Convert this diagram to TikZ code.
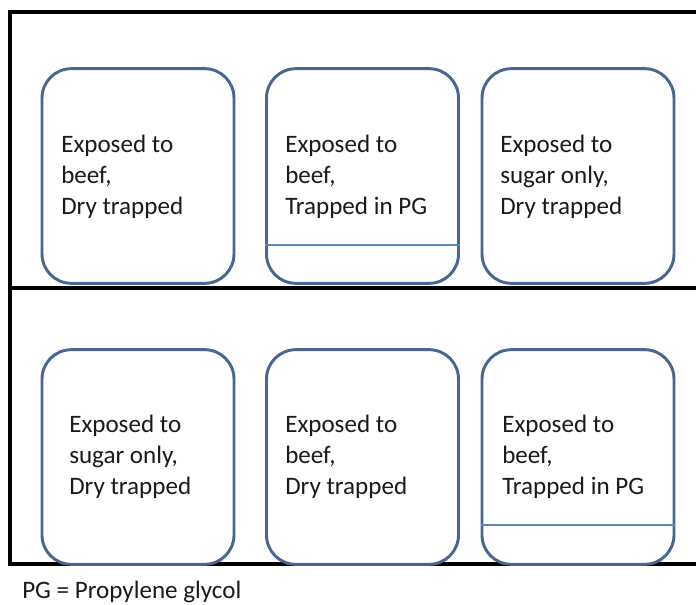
\documentclass[tikz,border=0pt]{standalone}
\usepackage{fontspec}
\setmainfont{Carlito}
\definecolor{boxblue}{HTML}{4A6591}
\definecolor{thinblue}{HTML}{5B86BF}
\definecolor{txt}{HTML}{1A1A1A}
\begin{document}
\begin{tikzpicture}[x=0.75pt,y=-0.75pt,
  frame/.style={line width=3pt,black},
  cell/.style={draw=boxblue,line width=2.2pt,fill=white,rounded corners=22pt,
    minimum width=144pt,minimum height=161pt,inner sep=0pt},
  pgline/.style={draw=thinblue,line width=0.8pt},
  lbl/.style={anchor=base west,inner sep=0pt,align=left,text=txt,
    font=\fontsize{18.8}{23}\selectfont}]
\useasboundingbox (0,0) rectangle (696,604);
\draw[frame] (700,12) -- (10,12) -- (10,564) -- (700,564);
\draw[frame] (10,288) -- (700,288);
% top row
\node[cell] (a1) at (138,176) {};
\node[cell] (a2) at (362.5,176) {};
\node[cell] (a3) at (578,176) {};
% bottom row
\node[cell] (b1) at (138,457) {};
\node[cell] (b2) at (362.5,457) {};
\node[cell] (b3) at (578,457) {};
\draw[pgline] (a2.west |- 0,245) -- (a2.east |- 0,245);
\draw[pgline] (b3.west |- 0,525) -- (b3.east |- 0,525);
\node[lbl] (t1) at (61,214) {Exposed to\\beef,\\Dry trapped};
\node[lbl] (t2) at (285,214) {Exposed to\\beef,\\Trapped in PG};
\node[lbl] (t3) at (500,214) {Exposed to\\sugar only,\\Dry trapped};
\node[lbl] (t4) at (69,494) {Exposed to\\sugar only,\\Dry trapped};
\node[lbl] (t5) at (285,494) {Exposed to\\beef,\\Dry trapped};
\node[lbl] (t6) at (502,494) {Exposed to\\beef,\\Trapped in PG};
\node[lbl] (note) at (22,598) {PG = Propylene glycol};
\end{tikzpicture}
\end{document}
